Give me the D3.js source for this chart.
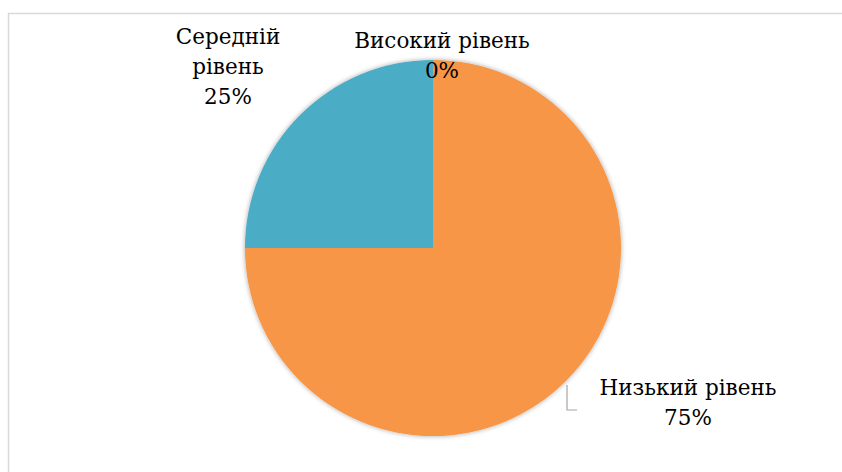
<!DOCTYPE html>
<html>
<head>
<meta charset="utf-8">
<script src="https://cdn.jsdelivr.net/npm/d3@7"></script>
<style>
body { margin: 0; background: #fff; }
</style>
</head>
<body>
<svg id="chart" width="842" height="472"></svg>
<script>
// data
var categories = ["Високий рівень", "Низький рівень", "Середній рівень"];
var shares = [0, 75, 25];
var colors = ["#4F81BD", "#F79646", "#4BACC6"];

// label spots (lines of each label, centred)
var labelLines = [["Високий рівень", "0%"], ["Низький рівень", "75%"], ["Середній", "рівень", "25%"]];
var labelPos = [[442, 48], [688, 395], [228, 44]];

var svg = d3.select("#chart"),
    cx = 433, cy = 248, radius = 188;

svg.append("rect")
    .attr("x", 8.5).attr("y", 13.5)
    .attr("width", 840).attr("height", 470)
    .attr("fill", "#fff")
    .attr("stroke", "#d9d9d9")
    .attr("stroke-width", 1.5);

var defs = svg.append("defs");
var f = defs.append("filter").attr("id", "shadow")
    .attr("x", "-10%").attr("y", "-10%").attr("width", "120%").attr("height", "120%");
f.append("feGaussianBlur").attr("in", "SourceAlpha").attr("stdDeviation", 2.5);
f.append("feComponentTransfer").append("feFuncA").attr("type", "linear").attr("slope", 0.35);
var m = f.append("feMerge");
m.append("feMergeNode");
m.append("feMergeNode").attr("in", "SourceGraphic");

var data = categories.map(function(c, i) { return {name: c, share: shares[i], color: colors[i]}; });

var pie = d3.pie().sort(null).value(function(d) { return d.share; });
var arc = d3.arc().innerRadius(0).outerRadius(radius);

var g = svg.append("g")
    .attr("transform", "translate(" + cx + "," + cy + ")")
    .attr("filter", "url(#shadow)");

g.selectAll("path")
    .data(pie(data))
    .enter().append("path")
    .attr("d", arc)
    .attr("fill", function(d) { return d.data.color; });

// leader line for the big slice
svg.append("polyline")
    .attr("points", "567,385 567,410 577,410")
    .attr("fill", "none")
    .attr("stroke", "#a6a6a6")
    .attr("stroke-width", 1.2);

labelLines.forEach(function(lines, i) {
    var t = svg.append("text")
        .attr("x", labelPos[i][0]).attr("y", labelPos[i][1])
        .attr("text-anchor", "middle")
        .style("font-family", "'DejaVu Serif', serif")
        .style("font-size", "21.5px")
        .attr("fill", "#000");
    lines.forEach(function(s, j) {
        t.append("tspan")
            .attr("x", labelPos[i][0])
            .attr("dy", j === 0 ? 0 : 30)
            .text(s);
    });
});
</script>
</body>
</html>
